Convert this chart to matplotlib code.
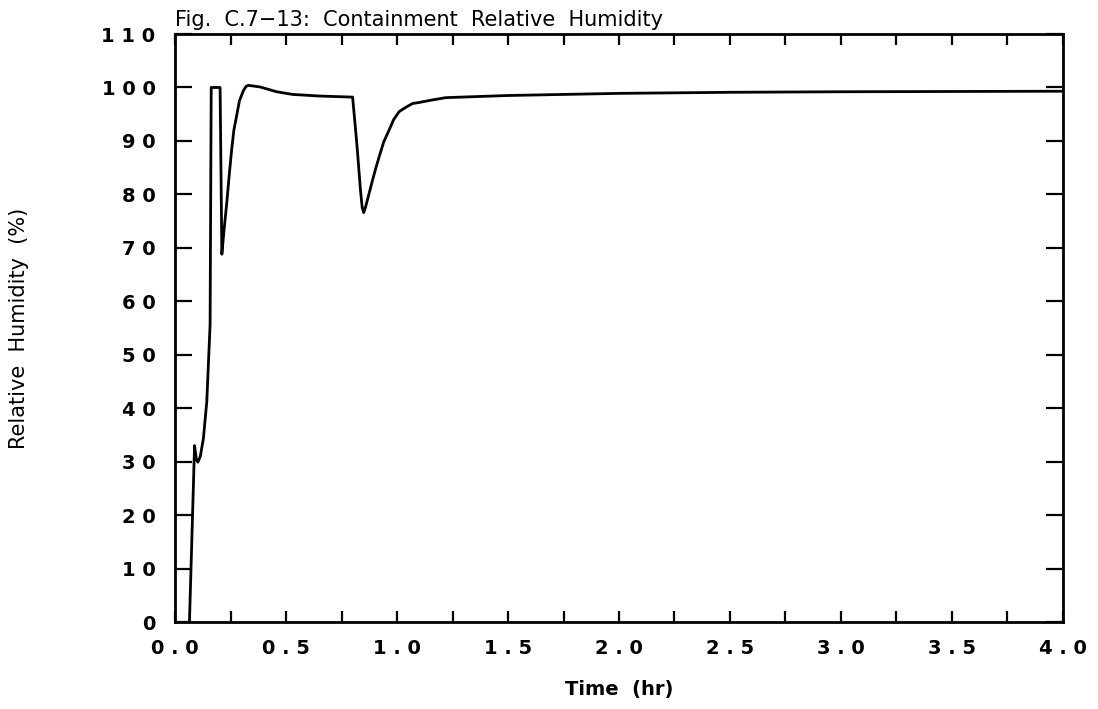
import matplotlib
matplotlib.use("Agg")
import matplotlib.pyplot as plt
from matplotlib.ticker import MultipleLocator

# values
time_hr = [0.065, 0.088, 0.096, 0.103, 0.114, 0.128, 0.143, 0.158, 0.163,
           0.203, 0.211, 0.220, 0.233, 0.245, 0.255, 0.265, 0.278, 0.290,
           0.308, 0.320, 0.330, 0.383, 0.458, 0.530, 0.650, 0.800, 0.820,
           0.835, 0.843, 0.850, 0.858, 0.870, 0.890, 0.905, 0.920, 0.940,
           0.964, 0.985, 1.010, 1.040, 1.070, 1.100, 1.150, 1.220, 1.500,
           2.000, 2.500, 3.000, 4.000]
rel_humidity = [0.0, 33.0, 30.5, 29.9, 31.0, 34.4, 41.2, 55.6, 100.0,
                100.0, 68.8, 73.0, 78.4, 84.0, 88.3, 92.0, 94.8, 97.5,
                99.4, 100.2, 100.4, 100.1, 99.2, 98.7, 98.4, 98.2, 89.0,
                81.0, 77.6, 76.6, 77.6, 79.5, 82.7, 85.0, 87.1, 89.8,
                92.0, 94.0, 95.5, 96.3, 97.0, 97.2, 97.6, 98.1, 98.5,
                98.9, 99.1, 99.2, 99.3]

x_ticks = [0.0, 0.5, 1.0, 1.5, 2.0, 2.5, 3.0, 3.5, 4.0]
y_ticks = list(range(0, 111, 10))


def spaced(s):
    return " ".join(s)


fig = plt.figure(figsize=(10.98, 7.09), dpi=100)
ax = fig.add_axes([0.1594, 0.1227, 0.8087, 0.8293])

ax.plot(time_hr, rel_humidity, color="black", lw=2.0, solid_joinstyle="round")

ax.set_xlim(0, 4)
ax.set_ylim(0, 110)
ax.set_xticks(x_ticks)
ax.set_xticklabels([spaced(f"{v:.1f}") for v in x_ticks])
ax.set_yticks(y_ticks)
ax.set_yticklabels([spaced(str(v)) for v in y_ticks])
ax.xaxis.set_minor_locator(MultipleLocator(0.25))

ax.tick_params(axis="both", which="both", direction="in", top=True, right=True,
               width=1.6, labelsize=14)
ax.tick_params(axis="x", which="both", length=8, pad=12)
ax.tick_params(axis="y", which="both", length=12, pad=14)
for lab in ax.get_xticklabels() + ax.get_yticklabels():
    lab.set_fontweight("semibold")

for sp in ax.spines.values():
    sp.set_linewidth(2.0)

ax.set_xlabel("Time  (hr)", fontsize=14, fontweight="semibold", labelpad=16)
ax.set_ylabel("Relative  Humidity  (%)", fontsize=15, labelpad=52)
fig.text(0.1594, 0.958, "Fig.  C.7\u221213:  Containment  Relative  Humidity",
         fontsize=15, ha="left", va="bottom")

fig.savefig("out.png", dpi=100)
